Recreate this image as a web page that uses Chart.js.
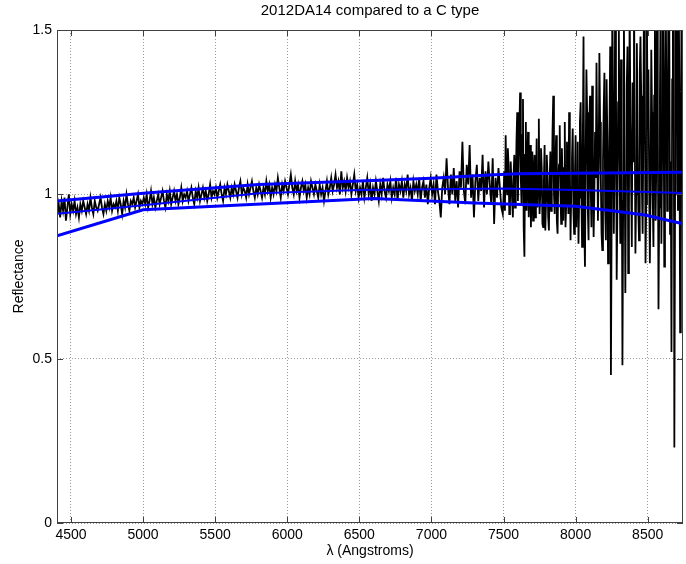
<!DOCTYPE html>
<html>
<head>
<meta charset="utf-8">
<title>2012DA14 compared to a C type</title>
<script src="https://cdn.jsdelivr.net/npm/chart.js@4/dist/chart.umd.min.js"></script>
<style>
  html, body { margin: 0; padding: 0; background: #fff; }
  #wrap { width: 686px; height: 564px; }
</style>
</head>
<body>
<div id="wrap"><canvas id="c" width="686" height="564"></canvas></div>
<script>
// spectrum of 2012DA14: blue side sampled every 10 A from 4405 A,
// red side every 5 A from 7500 A
const blueStart = 4405, blueStep = 10;
const redStart = 7500, redStep = 5;

const reflBlue = [
  0.94, 0.97, 0.93, 0.98, 0.95, 0.99, 0.92, 0.96, 1.00, 0.94,
  0.97, 0.95, 0.98, 0.94, 0.96, 0.93, 0.97, 0.95, 0.98, 0.96,
  0.94, 0.97, 0.95, 0.99, 0.96, 0.94, 0.98, 0.96, 0.95, 0.97,
  0.99, 0.96, 0.94, 0.97, 0.95, 0.98, 0.96, 0.99, 0.95, 0.97,
  0.96, 0.98, 0.95, 0.99, 0.97, 0.94, 0.98, 0.96, 1.00, 0.97,
  0.95, 0.98, 0.97, 0.99, 0.96, 0.98, 1.00, 0.96, 0.98, 0.97,
  0.99, 0.97, 1.00, 0.96, 0.98, 1.01, 0.97, 0.99, 0.96, 0.98,
  1.00, 0.97, 0.99, 1.01, 0.98, 0.96, 1.00, 0.98, 1.01, 0.97,
  0.99, 1.01, 0.98, 1.00, 0.97, 0.99, 1.02, 0.98, 1.00, 0.99,
  1.01, 0.98, 1.00, 1.02, 0.99, 0.97, 1.01, 0.99, 1.02, 0.98,
  1.00, 1.02, 0.99, 1.01, 0.98, 1.00, 1.03, 0.99, 1.01, 1.00,
  1.02, 0.99, 1.01, 1.03, 1.00, 0.98, 1.02, 1.00, 1.03, 1.01,
  0.99, 1.02, 1.00, 1.03, 1.01, 0.99, 1.02, 1.04, 1.00, 1.02,
  1.01, 0.99, 1.03, 1.00, 1.02, 1.04, 1.01, 0.99, 1.02, 1.00,
  1.03, 1.01, 0.99, 1.02, 1.00, 1.04, 1.01, 1.03, 0.99, 1.02,
  1.00, 1.03, 1.01, 1.05, 1.02, 0.99, 1.03, 1.01, 1.04, 1.02,
  1.00, 1.03, 1.06, 1.02, 1.00, 1.04, 1.01, 1.03, 0.99, 1.02,
  1.04, 1.01, 1.03, 0.99, 1.02, 1.00, 1.04, 1.02, 1.00, 1.03,
  1.01, 0.99, 1.03, 1.00, 1.02, 0.98, 1.01, 1.04, 1.00, 1.02,
  1.05, 1.01, 1.03, 1.06, 1.02, 1.04, 1.00, 1.07, 1.02, 1.04,
  1.01, 1.05, 1.02, 1.04, 1.00, 1.03, 1.06, 1.01, 1.03, 0.99,
  1.02, 1.00, 1.04, 0.99, 1.02, 1.05, 1.00, 1.03, 0.98, 1.02,
  1.00, 1.04, 1.01, 0.98, 1.03, 1.00, 1.05, 1.01, 0.99, 1.03,
  1.01, 1.04, 0.99, 1.02, 1.00, 1.05, 0.98, 1.03, 1.01, 1.04,
  0.99, 1.03, 1.01, 1.06, 1.00, 1.02, 0.98, 1.04, 1.01, 1.03,
  1.00, 1.05, 0.98, 1.02, 1.04, 0.99, 1.03, 0.97, 1.02, 1.05,
  1.00, 1.03, 0.97, 1.06, 1.01, 0.98, 0.93, 1.02, 1.05, 1.00,
  1.11, 1.02, 0.97, 1.06, 1.00, 1.08, 0.98, 1.04, 0.96, 1.07,
  1.02, 1.16, 1.01, 0.97, 1.09, 1.03, 1.15, 0.99, 1.06, 0.93,
  1.04, 1.09, 0.98, 1.05, 1.01, 1.12, 0.96, 1.07, 1.00, 1.10,
  1.03, 0.97, 1.11, 0.91, 1.05, 0.99, 1.08, 1.02, 0.96, 0.94
];

const reflRed = [
  0.99, 1.07, 0.95, 1.18, 1.03, 1.00, 1.14, 1.09, 0.94, 0.97, 1.10, 1.04, 0.98, 0.93, 1.06, 1.12, 0.96, 1.02, 1.16, 1.25,
  0.98, 1.10, 1.20, 1.31, 1.05, 0.97, 1.18, 1.29, 0.90, 0.81, 1.12, 1.22, 0.95, 1.06, 1.19, 0.93, 1.02, 1.15, 0.90, 1.01,
  1.13, 0.92, 1.05, 1.12, 0.93, 1.04, 1.17, 0.96, 1.07, 1.23, 0.94, 1.00, 1.14, 1.08, 0.91, 0.90, 1.04, 1.15, 0.89, 0.98,
  1.12, 1.06, 0.93, 0.89, 1.04, 1.13, 0.95, 1.02, 1.19, 1.30, 1.00, 0.94, 1.10, 1.18, 0.92, 0.88, 1.05, 1.09, 1.21, 1.00,
  0.91, 1.14, 1.03, 0.92, 1.08, 1.22, 0.90, 0.97, 1.16, 1.07, 0.94, 1.25, 1.10, 0.86, 1.02, 1.11, 1.20, 0.95, 0.88, 1.04,
  1.18, 0.90, 1.05, 1.16, 0.85, 0.99, 1.22, 1.28, 1.00, 0.84, 1.15, 1.48, 0.92, 0.78, 1.10, 1.38, 1.25, 0.95, 0.86, 1.21,
  1.30, 1.02, 0.90, 1.33, 1.12, 0.87, 1.00, 1.19, 1.05, 1.40, 1.15, 0.92, 1.08, 1.43, 1.22, 1.05, 0.88, 0.83, 1.10, 1.26,
  1.37, 0.96, 0.86, 1.35, 1.18, 0.79, 1.00, 1.20, 1.45, 0.45, 0.92, 1.62, 1.25, 0.88, 1.08, 1.70, 1.35, 0.74, 0.95, 1.28,
  1.50, 1.12, 0.85, 1.41, 1.20, 0.48, 0.98, 1.55, 1.15, 0.70, 1.06, 1.33, 1.45, 0.76, 0.93, 1.60, 1.22, 1.05, 0.84, 1.34,
  1.10, 1.62, 1.25, 0.82, 1.00, 1.46, 1.18, 0.95, 0.86, 1.37, 1.48, 1.30, 1.02, 0.88, 1.20, 1.68, 1.40, 0.79, 0.97, 1.52,
  1.20, 1.38, 1.06, 0.79, 1.00, 1.44, 1.25, 0.99, 0.84, 1.30, 1.55, 0.92, 1.10, 1.68, 1.28, 0.65, 0.96, 1.30, 1.60, 0.85,
  1.12, 1.75, 1.40, 0.78, 1.05, 1.62, 1.30, 0.95, 1.20, 1.80, 1.50, 0.88, 1.10, 0.52, 1.35, 1.55, 1.70, 0.23, 1.00, 1.70,
  1.58, 1.45, 0.95, 1.65, 1.30, 0.58, 1.05, 1.62, 1.40, 0.70
];

// C type templates (three curves), given at their nodes
const ctypeUpperLam = [4403, 5000, 5800, 6600, 7000, 7400, 7600, 8745];
const ctypeUpper    = [0.980, 1.003, 1.030, 1.042, 1.049, 1.059, 1.063, 1.067];
const ctypeMidLam   = [4403, 5000, 5800, 6500, 7500, 8000, 8745];
const ctypeMid      = [0.941, 0.967, 1.003, 1.013, 1.018, 1.013, 1.004];
const ctypeLowLam   = [4403, 5000, 6600, 7300, 8000, 8250, 8480, 8745];
const ctypeLow      = [0.874, 0.953, 0.987, 0.974, 0.964, 0.950, 0.937, 0.910];

const xTicks = [4500, 5000, 5500, 6000, 6500, 7000, 7500, 8000, 8500];
const yTicks = [0, 0.5, 1, 1.5];
const xMin = 4403, xMax = 8745;

const spectrum = [
  ...reflBlue.map((y, i) => ({x: blueStart + i * blueStep, y})),
  ...reflRed.map((y, i) => ({x: redStart + i * redStep, y}))
];
const pts = (xs, ys) => xs.map((x, i) => ({x, y: ys[i]}));

Chart.defaults.font.family = '"Liberation Sans", Arial, Helvetica, sans-serif';
Chart.defaults.font.size = 14;
Chart.defaults.color = '#000';

const AXIS = '#404040';

// title, box and inward ticks in the matlab style
const frame = {
  id: 'frame',
  afterDraw(chart){
    const {ctx, chartArea: a, scales: {x, y}} = chart;
    ctx.save();
    ctx.strokeStyle = AXIS;
    ctx.lineWidth = 1;
    ctx.strokeRect(a.left + 0.5, a.top + 0.5, a.right - a.left - 1, a.bottom - a.top - 1);
    ctx.beginPath();
    const tl = 6;
    xTicks.forEach(v => {
      const px = Math.round(x.getPixelForValue(v)) + 0.5;
      ctx.moveTo(px, a.bottom); ctx.lineTo(px, a.bottom - tl);
      ctx.moveTo(px, a.top); ctx.lineTo(px, a.top + tl);
    });
    yTicks.forEach(v => {
      const py = Math.round(y.getPixelForValue(v)) + 0.5;
      ctx.moveTo(a.left, py); ctx.lineTo(a.left + tl, py);
      ctx.moveTo(a.right, py); ctx.lineTo(a.right - tl, py);
    });
    ctx.stroke();

    ctx.fillStyle = '#000';
    ctx.font = '15px "Liberation Sans", Arial, sans-serif';
    ctx.textAlign = 'center';
    ctx.textBaseline = 'middle';
    ctx.fillText('2012DA14 compared to a C type', (a.left + a.right) / 2, 11);
    ctx.restore();
  }
};

const blue = (data, w) => ({
  data, borderColor: '#0000ff', borderWidth: w, pointRadius: 0,
  tension: 0, fill: false, clip: 0, order: 0
});

new Chart(document.getElementById('c'), {
  type: 'line',
  data: {
    datasets: [
      blue(pts(ctypeUpperLam, ctypeUpper), 3),
      blue(pts(ctypeMidLam, ctypeMid), 2),
      blue(pts(ctypeLowLam, ctypeLow), 3),
      {
        data: spectrum, borderColor: '#000', borderWidth: 1.8,
        pointRadius: 0, tension: 0, fill: false, clip: 0, order: 1
      }
    ]
  },
  options: {
    responsive: false,
    animation: false,
    devicePixelRatio: 1,
    layout: { padding: { top: 30, right: 3, left: 0, bottom: 0 } },
    plugins: { legend: { display: false }, tooltip: { enabled: false } },
    scales: {
      x: {
        type: 'linear', min: xMin, max: xMax,
        afterFit: s => { s.height = 41; },
        afterBuildTicks: s => { s.ticks = xTicks.map(v => ({value: v})); },
        ticks: { padding: 4, maxRotation: 0, autoSkip: false, callback: v => String(v) },
        grid: { drawTicks: false, color: '#9a9a9a', lineWidth: 1 },
        border: { display: false, dash: [1, 2] },
        title: { display: true, text: 'λ (Angstroms)', padding: { top: 0, bottom: 4 } }
      },
      y: {
        type: 'linear', min: 0, max: 1.5,
        afterFit: s => { s.width = 57; },
        afterBuildTicks: s => { s.ticks = yTicks.map(v => ({value: v})); },
        ticks: { padding: 5, autoSkip: false, callback: v => String(v) },
        grid: { drawTicks: false, color: '#9a9a9a', lineWidth: 1 },
        border: { display: false, dash: [1, 2] },
        title: { display: true, text: 'Reflectance', padding: { top: 11, bottom: 11 } }
      }
    }
  },
  plugins: [frame]
});
</script>
</body>
</html>
